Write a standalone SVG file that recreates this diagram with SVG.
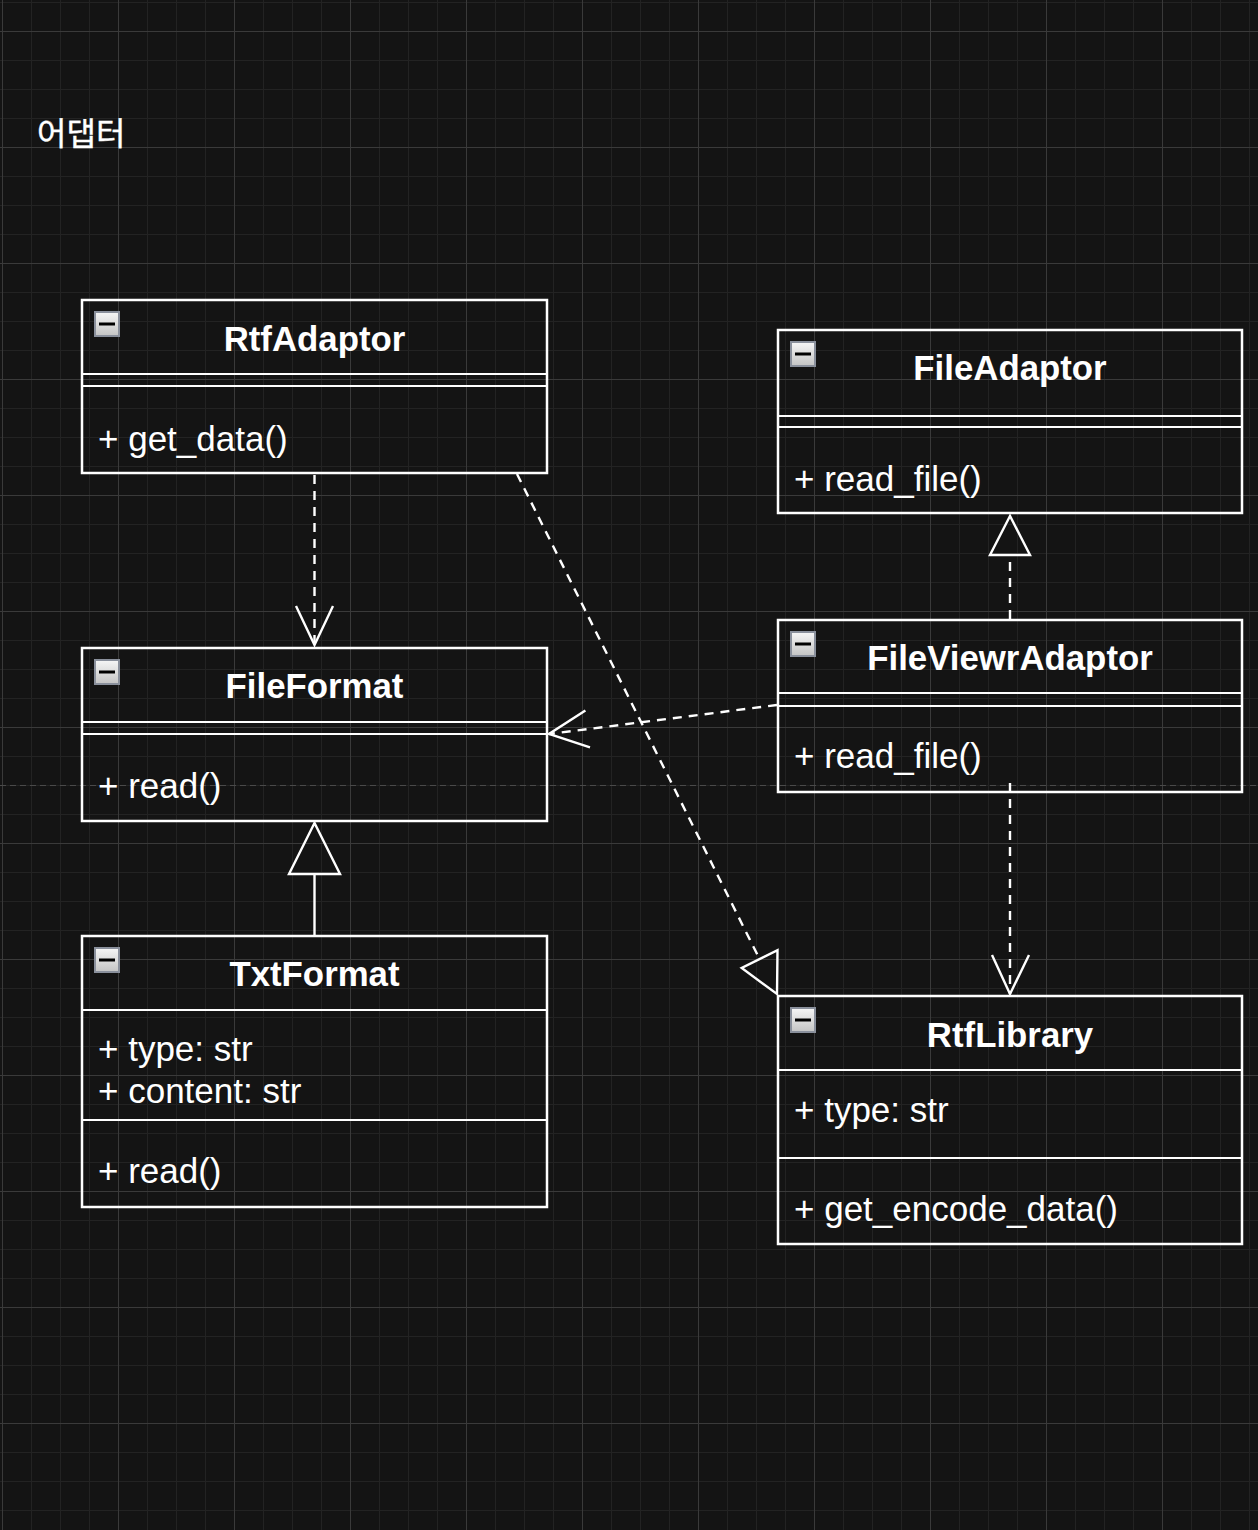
<svg xmlns="http://www.w3.org/2000/svg" width="1258" height="1530" viewBox="0 0 1258 1530">
  <style>
    .box { fill: none; stroke: #ffffff; stroke-width: 2.5; }
    .div { stroke: #ffffff; stroke-width: 2; }
    .title { font-family: "Liberation Sans", Arial, sans-serif; font-size: 34.8px; font-weight: bold; fill: #ffffff; text-anchor: middle; }
    .member { font-family: "Liberation Sans", Arial, sans-serif; font-size: 35px; fill: #ffffff; }
    .heading { font-family: "Noto Sans CJK KR", "Noto Sans", sans-serif; font-size: 32px; fill: #ffffff; }
    .edge { fill: none; stroke: #ffffff; stroke-width: 2.4; }
    .dash { stroke-dasharray: 9 7; }
    .head { fill: none; stroke: #ffffff; stroke-width: 2.4; stroke-linejoin: miter; }
    .icon { stroke: #8a909c; stroke-width: 2; fill: url(#iconGrad); }
    .minus { stroke: #000000; stroke-width: 3; }
  </style>
  <defs>
    <pattern id="grid" x="2" y="31" width="116" height="116" patternUnits="userSpaceOnUse">
      <path d="M29.5 0V116M58.5 0V116M87.5 0V116M0 29.5H116M0 58.5H116M0 87.5H116" stroke="#232323" stroke-width="1" fill="none"/>
      <path d="M0.5 0V116M0 0.5H116" stroke="#3a3a3a" stroke-width="1" fill="none"/>
    </pattern>
    <linearGradient id="iconGrad" x1="0" y1="0" x2="0" y2="1">
      <stop offset="0" stop-color="#f6f6f6"/>
      <stop offset="1" stop-color="#c4c4c4"/>
    </linearGradient>
    <g id="collapse">
      <rect x="1" y="1" width="24" height="24" class="icon"/>
      <line x1="5" y1="13" x2="21" y2="13" class="minus"/>
    </g>
  </defs>

  <rect x="0" y="0" width="1258" height="1530" fill="#141414"/>
  <rect x="0" y="0" width="1258" height="1530" fill="url(#grid)"/>
  <line x1="0" y1="785.5" x2="1258" y2="785.5" stroke="#4a4a4a" stroke-width="1" stroke-dasharray="6 4"/>

  <text class="heading" x="37" y="145" stroke="#ffffff" stroke-width="0.4">어댑터</text>

  <g id="RtfAdaptor">
    <rect class="box" x="82" y="300" width="465" height="173"/>
    <use href="#collapse" x="94" y="311"/>
    <text class="title" x="314.5" y="351">RtfAdaptor</text>
    <line class="div" x1="82" y1="374" x2="547" y2="374"/>
    <line class="div" x1="82" y1="386" x2="547" y2="386"/>
    <text class="member" x="98" y="451">+ get_data()</text>
  </g>

  <g id="FileAdaptor">
    <rect class="box" x="778" y="330" width="464" height="183"/>
    <use href="#collapse" x="790" y="341"/>
    <text class="title" x="1010" y="380">FileAdaptor</text>
    <line class="div" x1="778" y1="416" x2="1242" y2="416"/>
    <line class="div" x1="778" y1="427" x2="1242" y2="427"/>
    <text class="member" x="794" y="491">+ read_file()</text>
  </g>

  <g id="FileViewrAdaptor">
    <rect class="box" x="778" y="620" width="464" height="172"/>
    <use href="#collapse" x="790" y="631"/>
    <text class="title" x="1010" y="670">FileViewrAdaptor</text>
    <line class="div" x1="778" y1="693" x2="1242" y2="693"/>
    <line class="div" x1="778" y1="706" x2="1242" y2="706"/>
    <text class="member" x="794" y="768">+ read_file()</text>
  </g>

  <g id="FileFormat">
    <rect class="box" x="82" y="648" width="465" height="173"/>
    <use href="#collapse" x="94" y="659"/>
    <text class="title" x="314.5" y="698">FileFormat</text>
    <line class="div" x1="82" y1="722" x2="547" y2="722"/>
    <line class="div" x1="82" y1="734" x2="547" y2="734"/>
    <text class="member" x="98" y="798">+ read()</text>
  </g>

  <g id="TxtFormat">
    <rect class="box" x="82" y="936" width="465" height="271"/>
    <use href="#collapse" x="94" y="947"/>
    <text class="title" x="314.5" y="986">TxtFormat</text>
    <line class="div" x1="82" y1="1010" x2="547" y2="1010"/>
    <text class="member" x="98" y="1061">+ type: str</text>
    <text class="member" x="98" y="1103">+ content: str</text>
    <line class="div" x1="82" y1="1120" x2="547" y2="1120"/>
    <text class="member" x="98" y="1183">+ read()</text>
  </g>

  <g id="RtfLibrary">
    <rect class="box" x="778" y="996" width="464" height="248"/>
    <use href="#collapse" x="790" y="1007"/>
    <text class="title" x="1010" y="1047">RtfLibrary</text>
    <line class="div" x1="778" y1="1070" x2="1242" y2="1070"/>
    <text class="member" x="794" y="1122">+ type: str</text>
    <line class="div" x1="778" y1="1158" x2="1242" y2="1158"/>
    <text class="member" x="794" y="1221">+ get_encode_data()</text>
  </g>

  <g id="connectors">
    <!-- RtfAdaptor -> FileFormat (dependency) -->
    <line class="edge dash" x1="314.5" y1="475" x2="314.5" y2="645"/>
    <polyline class="head" points="296,606 314.5,645 333,606"/>
    <!-- RtfAdaptor -> RtfLibrary (realization) -->
    <line class="edge dash" x1="517" y1="474" x2="759.6" y2="959.1"/>
    <polygon class="head" points="777,994 777.5,950.2 741.7,968"/>
    <!-- FileViewrAdaptor -> FileFormat (dependency) -->
    <line class="edge dash" x1="777" y1="705" x2="549" y2="734"/>
    <polyline class="head" points="585.4,710.6 549,734 590,747.4"/>
    <!-- FileViewrAdaptor -> FileAdaptor (realization) -->
    <line class="edge dash" x1="1010" y1="619" x2="1010" y2="555"/>
    <polygon class="head" points="1010,516 990,555 1030,555"/>
    <!-- FileViewrAdaptor -> RtfLibrary (dependency) -->
    <line class="edge dash" x1="1010" y1="783" x2="1010" y2="994"/>
    <polyline class="head" points="992,955 1010,994 1029,955"/>
    <!-- TxtFormat -> FileFormat (generalization) -->
    <line class="edge" x1="314.5" y1="935" x2="314.5" y2="874"/>
    <polygon class="head" points="314.5,823 289,874 340,874"/>
  </g>
</svg>
